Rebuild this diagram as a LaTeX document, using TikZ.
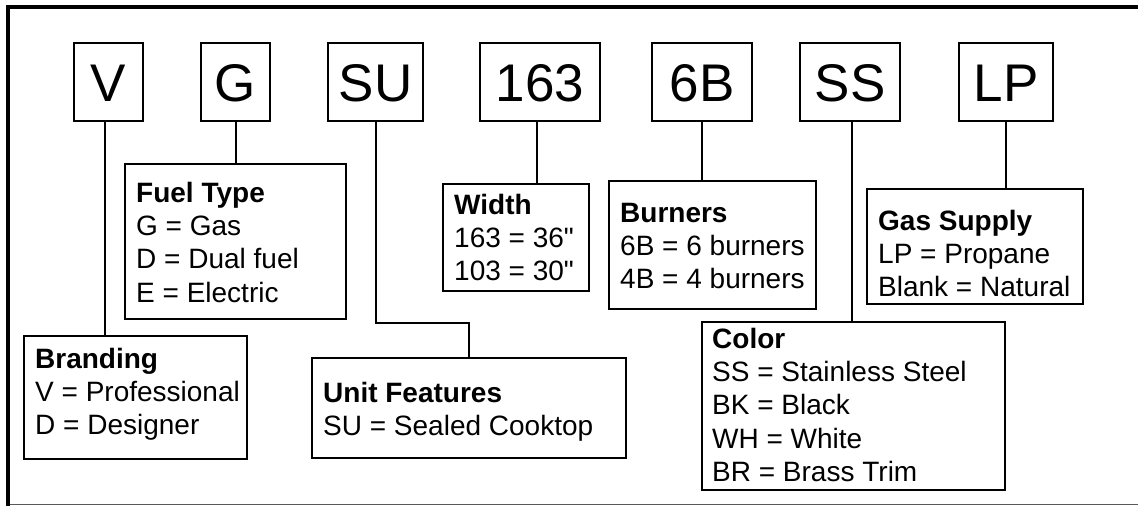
\documentclass[tikz,border=0pt]{standalone}
\usepackage{fontspec}
\setmainfont{Liberation Sans}[Ligatures=TeXOff]
\begin{document}
\begin{tikzpicture}[x=1pt,y=-1pt,
  codebox/.style={draw, line width=2pt, minimum height=78pt, inner sep=0pt,
    font=\fontsize{53}{53}\selectfont, text height=38pt, text depth=0pt},
  infobox/.style={draw, line width=2pt, inner sep=0pt},
  infotext/.style={anchor=north west, inner sep=0pt, align=left,
    font=\fontsize{28}{33.3}\selectfont},
  link/.style={line width=2pt}]
\useasboundingbox (0,0) rectangle (1138,506);
% frame
\draw[line width=4pt, line join=miter] (1138,6.5) -- (8,6.5) -- (8,506);
\draw[line width=1.5pt, black!65] (10,504.5) -- (1138,504.5);
% code boxes
\node[codebox, minimum width=69pt]  (V)   at (108.5,82) {V};
\node[codebox, minimum width=69pt]  (G)   at (235.5,82) {G};
\node[codebox, minimum width=95pt]  (SU)  at (375.5,82) {SU};
\node[codebox, minimum width=120pt] (N163) at (540,82) {163};
\node[codebox, minimum width=100pt] (B6)  at (702,82) {6B};
\node[codebox, minimum width=100pt] (SS)  at (850,82) {SS};
\node[codebox, minimum width=94pt]  (LP)  at (1006,82) {LP};
% info boxes
\node[infobox, minimum width=223pt, minimum height=123pt] (brand) at (135.5,397.5) {};
\node[infobox, minimum width=221pt, minimum height=155pt] (fuel)  at (235.5,241.5) {};
\node[infobox, minimum width=314pt, minimum height=100pt] (unit)  at (469,408) {};
\node[infobox, minimum width=146pt, minimum height=107pt] (width) at (516,237.5) {};
\node[infobox, minimum width=207pt, minimum height=128pt] (burn)  at (712.5,245) {};
\node[infobox, minimum width=303pt, minimum height=168pt] (color) at (853.5,406) {};
\node[infobox, minimum width=216pt, minimum height=115pt] (gas)   at (975,246.5) {};
% texts
\node[infotext] (brandt) at (35,346) {\rule{0pt}{22pt}\textbf{Branding}\\V = Professional\\D = Designer};
\node[infotext] (fuelt)  at (136,180) {\rule{0pt}{22pt}\textbf{Fuel Type}\\G = Gas\\D = Dual fuel\\E = Electric};
\node[infotext] (unitt)  at (323,380) {\rule{0pt}{22pt}\textbf{Unit Features}\\SU = Sealed Cooktop};
\node[infotext] (widtht) at (454,192) {\rule{0pt}{22pt}\textbf{Width}\\163 = 36"\\103 = 30"};
\node[infotext] (burnt)  at (620,200) {\rule{0pt}{22pt}\textbf{Burners}\\6B = 6 burners\\4B = 4 burners};
\node[infotext] (colort) at (712,326) {\rule{0pt}{22pt}\textbf{Color}\\SS = Stainless Steel\\BK = Black\\WH = White\\BR = Brass Trim};
\node[infotext] (gast)   at (878,208) {\rule{0pt}{22pt}\textbf{Gas Supply}\\LP = Propane\\Blank = Natural};
% connectors
\draw[link] ([xshift=-3.5pt]V.south) -- ([xshift=-3.5pt]V.south |- brand.north);
\draw[link] (G.south) -- (G.south |- fuel.north);
\coordinate (subend) at (469,323);
\draw[link, line join=miter] (SU.south) |- (subend) -- (unit.north);
\draw[link] ([xshift=-3pt]N163.south) -- ([xshift=-3pt]N163.south |- width.north);
\draw[link] (B6.south) -- (B6.south |- burn.north);
\draw[link] ([xshift=2pt]SS.south) -- ([xshift=2pt]SS.south |- color.north);
\draw[link] (LP.south) -- (LP.south |- gas.north);
\end{tikzpicture}
\end{document}
